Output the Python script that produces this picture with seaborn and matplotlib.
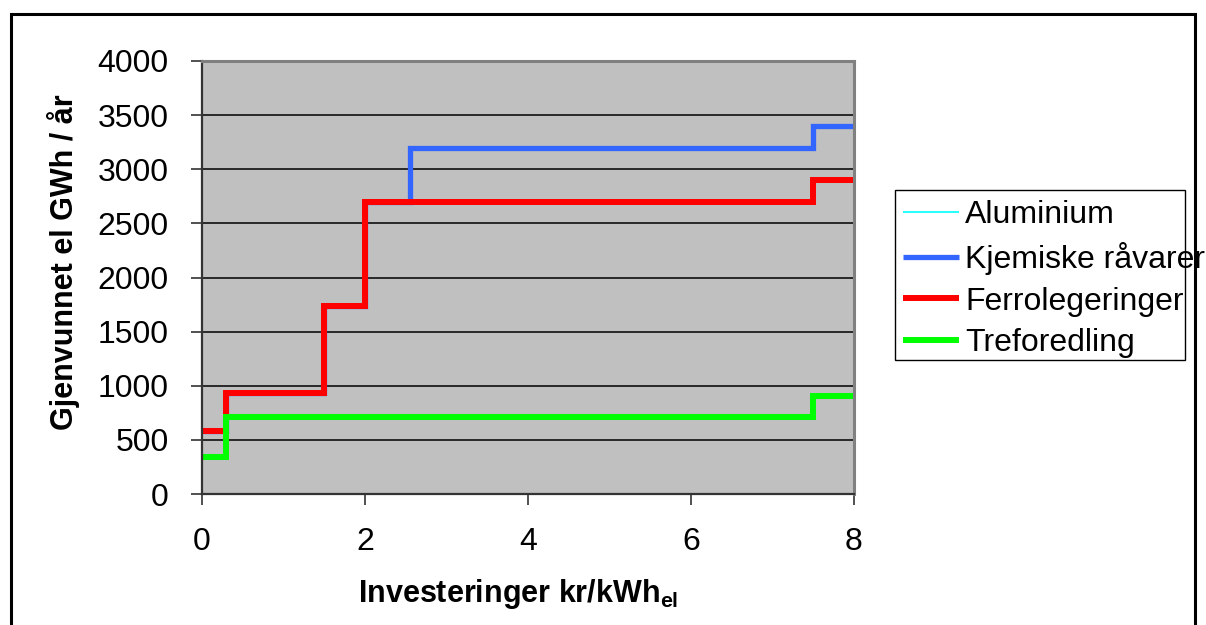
import matplotlib
matplotlib.use("Agg")
import matplotlib.pyplot as plt
import seaborn as sns
import pandas as pd
from matplotlib.patches import Rectangle

# ---- data ----
x_steps = [0.0, 0.3, 1.5, 2.0, 2.55, 7.5, 8.0]
series_names = ["Aluminium", "Kjemiske råvarer", "Ferrolegeringer", "Treforedling"]
aluminium = [580, 930, 1740, 2700, 3200, 3400, 3400]
kjemiske = [580, 930, 1740, 2700, 3200, 3400, 3400]
ferro = [580, 930, 1740, 2700, 2700, 2900, 2900]
treforedling = [340, 710, 710, 710, 710, 905, 905]
x_ticks = [0, 2, 4, 6, 8]
y_ticks = [0, 500, 1000, 1500, 2000, 2500, 3000, 3500, 4000]

values = {
    "Aluminium": aluminium,
    "Kjemiske råvarer": kjemiske,
    "Ferrolegeringer": ferro,
    "Treforedling": treforedling,
}
rows = []
for name in series_names:
    for xv, yv in zip(x_steps, values[name]):
        rows.append({"serie": name, "x": xv, "y": yv})
df = pd.DataFrame(rows)

colors = {
    "Aluminium": "#00FFFF",
    "Kjemiske råvarer": "#3366FF",
    "Ferrolegeringer": "#FF0000",
    "Treforedling": "#00FF00",
}
widths = {
    "Aluminium": 1.2,
    "Kjemiske råvarer": 3.8,
    "Ferrolegeringer": 4.3,
    "Treforedling": 4.3,
}

sns.set_style("ticks")
plt.rcParams["font.family"] = ["Liberation Sans", "DejaVu Sans"]
plt.rcParams["mathtext.fontset"] = "custom"
plt.rcParams["mathtext.rm"] = "Liberation Sans"
plt.rcParams["mathtext.bf"] = "Liberation Sans:bold"
plt.rcParams["text.color"] = "black"
plt.rcParams["axes.labelcolor"] = "black"
plt.rcParams["xtick.labelcolor"] = "black"
plt.rcParams["ytick.labelcolor"] = "black"

W, H = 1206, 625
fig = plt.figure(figsize=(W / 100, H / 100), dpi=100)
ax = fig.add_axes([202 / W, 1 - 494 / H, 652 / W, 433 / H])
ax.set_facecolor("#C0C0C0")

for name in series_names:
    sub = df[df["serie"] == name]
    sns.lineplot(data=sub, x="x", y="y", ax=ax, drawstyle="steps-post",
                 color=colors[name], linewidth=widths[name], label=name,
                 solid_joinstyle="miter", solid_capstyle="butt", legend=False)

ax.set_xlim(0, 8)
ax.set_ylim(0, 4000)
ax.set_xticks(x_ticks)
ax.set_yticks(y_ticks)
ax.set_axisbelow(True)
ax.yaxis.grid(True, color="#000000", linewidth=1.1)
ax.xaxis.grid(False)

for side in ["left", "bottom"]:
    ax.spines[side].set_color("#333333")
    ax.spines[side].set_linewidth(1.6)
for side in ["top", "right"]:
    ax.spines[side].set_visible(True)
    ax.spines[side].set_color("#808080")
    ax.spines[side].set_linewidth(2.2)

ax.tick_params(axis="both", direction="out", length=8, width=1.2,
               color="#333333", labelsize=23, pad=16, labelcolor="black")

ax.set_xlabel("Investeringer kr/kWh$_{\\mathbf{el}}$", fontsize=22, fontweight="bold")
ax.set_ylabel("Gjenvunnet el GWh / år", fontsize=22, fontweight="bold")
ax.xaxis.set_label_coords((518 - 202) / 652, (494 - 577) / 433)
ax.yaxis.set_label_coords((80 - 202) / 652, (494 - 262) / 433)

# legend
handles, labels = ax.get_legend_handles_labels()
leg = fig.legend(handles, labels, loc="upper left",
                 bbox_to_anchor=(903 / W, 1 - 200 / H),
                 frameon=False, fontsize=23, handlelength=1.75,
                 handletextpad=0.2, labelspacing=0.37, borderpad=0,
                 borderaxespad=0)
for t in leg.get_texts():
    t.set_color("black")
fig.add_artist(Rectangle((895 / W, 1 - 360 / H), 290 / W, 170 / H,
                         transform=fig.transFigure, fill=False,
                         edgecolor="black", linewidth=1.0))

# outer border
fig.add_artist(Rectangle((11 / W, -0.1), (1195 - 11) / W, 1.1 - 14 / H,
                         transform=fig.transFigure, fill=False,
                         edgecolor="black", linewidth=2.2))

fig.savefig("out.png", dpi=100)
